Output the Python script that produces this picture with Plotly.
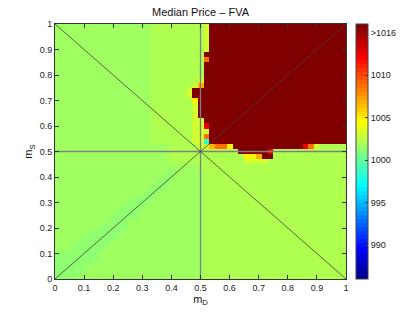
import re
import plotly.graph_objects as go

# ---- data (51 x 51 grid, step 0.02) ----
m_D = [round(0.02 * i, 2) for i in range(51)]          # x grid
m_S_top_down = [round(1 - 0.02 * i, 2) for i in range(51)]  # y grid, rows listed from top

# price level codes (median price)
level_values = {
    'q': 998.6, 'c': 1001.25, 'g': 1001.8, 'h': 1002.2, 'l': 1003.0,
    'y': 1005.0, 'a': 1006.8, 'o': 1008.6, 'r': 1012.5, 'D': 1020.0,
}

# run-length encoded rows, from m_S = 1.00 (top) down to m_S = 0.00
rows_rle = [
    "17g9h1l24D", "17g9h1l24D", "17g9h1l24D", "17g9h1l24D", "17g9h1l24D", "17g9h1l24D",
    "17g9h25D", "17g9h1o24D",
    "17g9h25D", "17g9h25D", "17g9h25D", "17g8h1l25D", "17g7h1l1a25D",
    "17g6h1l27D", "17g6h1l27D",
    "17g7h1y26D", "17g7h1l26D", "17g7h1l26D", "17g7h1l26D",
    "17g7h2l25D", "17g7h2l1r24D", "17g7h3l24D", "17g7h2l1o24D", "17g7h2l1q24D",
    "20g5h2l1a2o1y12D1r1o1l5h",
    "20g12h5D1r13h",
    "20g13h2y1a2D13h",
    "20g13h4l14h",
    "25g26h",
    "20g1c5g25h", "19g2c5g25h", "18g2c6g25h", "17g3c6g25h", "16g2c8g25h",
    "14g4c8g25h", "13g4c9g25h", "12g4c10g25h", "11g4c11g25h", "10g5c11g25h",
    "9g4c13g25h", "8g5c13g25h", "6g6c14g25h", "5g6c15g25h", "4g6c16g25h",
    "3g6c17g25h", "1g7c18g25h", "8c18g25h", "7c19g25h", "6c20g25h",
    "5c21g25h", "4c22g25h",
]

cbar_tickvals = [990, 995, 1000, 1005, 1010, 1015]
cbar_ticktext = ["990", "995", "1000", "1005", "1010", ">1016"]
axis_ticks = [0, 0.1, 0.2, 0.3, 0.4, 0.5, 0.6, 0.7, 0.8, 0.9, 1]
axis_ticktext = ["0", "0.1", "0.2", "0.3", "0.4", "0.5", "0.6", "0.7", "0.8", "0.9", "1"]

# reference lines
diag_up_x, diag_up_y = [0, 1], [0, 1]
diag_dn_x, diag_dn_y = [0, 1], [1, 0]
mid_h_x, mid_h_y = [0, 1], [0.5, 0.5]
mid_v_x, mid_v_y = [0.5, 0.5], [0, 1]


def decode(s):
    out = []
    for n, ch in re.findall(r'(\d+)([A-Za-z])', s):
        out += [level_values[ch]] * int(n)
    assert len(out) == 51, (s, len(out))
    return out


z = [decode(s) for s in rows_rle]
z_bottom_up = z[::-1]
y_bottom_up = m_S_top_down[::-1]


def jet(x):
    r = min(max(1.5 - abs(4 * x - 3), 0), 1)
    g = min(max(1.5 - abs(4 * x - 2), 0), 1)
    b = min(max(1.5 - abs(4 * x - 1), 0), 1)
    return f"rgb({round(255*r)},{round(255*g)},{round(255*b)})"


colorscale = []
for k in range(1, 65):
    c = jet(k / 64)
    colorscale.append([(k - 1) / 64, c])
    colorscale.append([k / 64, c])

FONT = "Liberation Sans, Arial, sans-serif"

fig = go.Figure()
fig.add_trace(go.Heatmap(
    x=m_D, y=y_bottom_up, z=z_bottom_up,
    zmin=986, zmax=1016, zsmooth=False,
    colorscale=colorscale,
    colorbar=dict(
        x=1.034, xanchor="left", xref="paper",
        y=0.5, yanchor="middle", len=1, lenmode="fraction",
        thickness=12, thicknessmode="pixels",
        outlinewidth=1, outlinecolor="#444444",
        tickvals=cbar_tickvals, ticktext=cbar_ticktext,
        ticks="inside", ticklen=3, tickcolor="#333333",
        tickfont=dict(family=FONT, size=9, color="#222222"),
        xpad=0, ypad=0,
    ),
    showscale=True,
))

for lx, ly, col, w in [
    (mid_h_x, mid_h_y, "#808080", 1.3),
    (mid_v_x, mid_v_y, "#808080", 1.3),
    (diag_up_x, diag_up_y, "#404040", 0.8),
    (diag_dn_x, diag_dn_y, "#404040", 0.8),
]:
    fig.add_trace(go.Scatter(x=lx, y=ly, mode="lines",
                             line=dict(color=col, width=w),
                             showlegend=False, hoverinfo="skip"))

axis_common = dict(
    range=[0, 1], tickvals=axis_ticks, ticktext=axis_ticktext,
    ticks="inside", ticklen=4, tickcolor="#333333",
    showline=True, linecolor="#333333", linewidth=1, mirror="ticks",
    showgrid=False, zeroline=False, automargin=False,
    tickfont=dict(family=FONT, size=9, color="#222222"),
)

fig.update_layout(
    width=415, height=316,
    margin=dict(l=55, r=69, t=24, b=37, autoexpand=False),
    paper_bgcolor="white", plot_bgcolor="white",
    title=dict(text="Median Price – FVA", x=0.5, xref="paper", xanchor="center",
               y=1 - 12 / 316, yref="container", yanchor="middle",
               font=dict(family=FONT, size=11, color="#111111")),
    xaxis=dict(**axis_common,
               title=dict(text="m<sub>D</sub>", standoff=0,
                          font=dict(family=FONT, size=11, color="#111111"))),
    yaxis=dict(**axis_common,
               title=dict(text="m<sub>S</sub>", standoff=4,
                          font=dict(family=FONT, size=11, color="#111111"))),
    showlegend=False,
)

fig.write_html("out.html",
               config={"displayModeBar": False},
               post_script="document.body.style.margin='0';document.body.style.overflow='hidden';")
